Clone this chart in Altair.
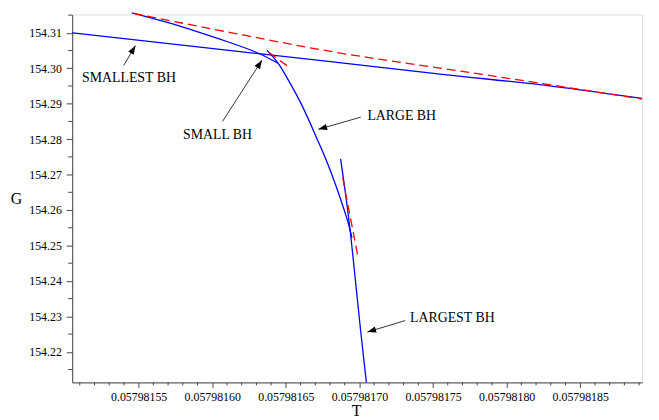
import math
import altair as alt
import pandas as pd

# ---------------- data ----------------
smallest_T = [0.0579815049, 0.0579815902, 0.0579816774, 0.0579817579, 0.0579818317, 0.0579818920]
smallest_G = [154.31000, 154.30604, 154.30200, 154.29824, 154.29490, 154.29150]

small_T = [0.0579815453, 0.0579815701, 0.0579815902, 0.0579816104, 0.0579816325, 0.0579816446]
small_G = [154.31566, 154.31287, 154.31028, 154.30749, 154.30404, 154.30145]

large_T = [0.0579816372, 0.0579816452, 0.0579816520, 0.0579816607, 0.0579816719,
           0.0579816774, 0.0579816828, 0.0579816897, 0.0579816931, 0.0579816949]
large_G = [154.30507, 154.30117, 154.29643, 154.28974, 154.27943,
           154.27414, 154.26829, 154.25993, 154.25528, 154.25213]

largest_T = [0.0579816872, 0.0579816908, 0.0579816942, 0.0579816972, 0.0579817009, 0.0579817047]
largest_G = [154.27442, 154.26383, 154.25241, 154.24043, 154.22566, 154.21136]

red1_T = [0.0579815466, 0.0579816124, 0.0579816774, 0.0579817847, 0.0579818920]
red1_G = [154.31549, 154.31008, 154.30498, 154.29821, 154.29133]
red2_T = [0.0579816383, 0.0579816528]
red2_G = [154.30451, 154.30014]
red3_T = [0.0579816886, 0.0579816987]
red3_G = [154.26912, 154.24748]

label_text = ["SMALLEST BH", "SMALL BH", "LARGE BH", "LARGEST BH"]
label_T = [0.0579815116, 0.0579815802, 0.0579817054, 0.0579817344]
label_G = [154.29615, 154.28008, 154.28548, 154.22836]

arrow_tail_T = [0.0579815399, 0.0579816070, 0.0579817009, 0.0579817311]
arrow_tail_G = [154.30081, 154.28501, 154.28620, 154.22881]
arrow_tip_T = [0.0579815478, 0.0579816338, 0.0579816721, 0.0579817054]
arrow_tip_G = [154.30638, 154.30228, 154.28278, 154.22558]

x_ticks = [0.05798155, 0.05798160, 0.05798165, 0.05798170, 0.05798175, 0.05798180, 0.05798185]
x_minor = [0.05798151, 0.05798152, 0.05798153, 0.05798154,
           0.05798156, 0.05798157, 0.05798158, 0.05798159,
           0.05798161, 0.05798162, 0.05798163, 0.05798164,
           0.05798166, 0.05798167, 0.05798168, 0.05798169,
           0.05798171, 0.05798172, 0.05798173, 0.05798174,
           0.05798176, 0.05798177, 0.05798178, 0.05798179,
           0.05798181, 0.05798182, 0.05798183, 0.05798184,
           0.05798186, 0.05798187, 0.05798188, 0.05798189]
y_ticks = [154.22, 154.23, 154.24, 154.25, 154.26, 154.27, 154.28, 154.29, 154.30, 154.31]
y_minor = [154.215, 154.225, 154.235, 154.245, 154.255, 154.265, 154.275,
           154.285, 154.295, 154.305, 154.315]

x_domain = [0.05798150486, 0.05798189205]
y_domain = [154.21136, 154.31518]

# ---------------- layout ----------------
W, H = 577, 372.5
SERIF = "Liberation Serif, Times New Roman, serif"

def curve_df(name, T, G):
    return pd.DataFrame({"T": T, "G": G, "curve": name, "i": list(range(len(T)))})

blue_df = pd.concat([
    curve_df("smallest", smallest_T, smallest_G),
    curve_df("small", small_T, small_G),
    curve_df("large", large_T, large_G),
    curve_df("largest", largest_T, largest_G),
])
red_df = pd.concat([
    curve_df("r1", red1_T, red1_G),
    curve_df("r2", red2_T, red2_G),
    curve_df("r3", red3_T, red3_G),
])

xs = alt.Scale(domain=x_domain, nice=False, zero=False)
ys = alt.Scale(domain=y_domain, nice=False, zero=False)

x_axis = alt.Axis(values=x_ticks, format=".8f", grid=False, labelFont=SERIF, labelFontSize=12,
                  labelColor="#000", tickSize=5, tickColor="#444", domainColor="#444",
                  labelPadding=4, title="T", titleFont=SERIF, titleFontSize=16,
                  titleFontWeight="normal", titleColor="#000", titleX=W / 2 - 1, titleY=34,
                  titleBaseline="alphabetic", titleAlign="center", labelFlush=False)
y_axis = alt.Axis(values=y_ticks, format=".2f", grid=False, labelFont=SERIF, labelFontSize=12,
                  labelColor="#000", tickSize=6, tickColor="#444", domainColor="#444",
                  labelPadding=5, title="G", titleFont=SERIF, titleFontSize=16,
                  titleFontWeight="normal", titleColor="#000", titleAngle=0, titleX=-57,
                  titleY=H / 2, titleAlign="center", titleBaseline="middle", labelFlush=False)

blue = alt.Chart(blue_df).mark_line(color="#0000ff", strokeWidth=1.3, interpolate="monotone").encode(
    x=alt.X("T:Q", scale=xs, axis=x_axis),
    y=alt.Y("G:Q", scale=ys, axis=y_axis),
    detail="curve:N",
    order="i:Q",
)
red = alt.Chart(red_df).mark_line(color="#ff0000", strokeWidth=1.3, strokeDash=[9, 5],
                                  interpolate="monotone").encode(
    x=alt.X("T:Q", scale=xs), y=alt.Y("G:Q", scale=ys), detail="curve:N", order="i:Q"
)

# minor ticks
xminor = alt.Chart(pd.DataFrame({"T": x_minor})).mark_rule(color="#444", strokeWidth=1).encode(
    x=alt.X("T:Q", scale=xs), y=alt.value(H), y2=alt.value(H + 3)
)
yminor = alt.Chart(pd.DataFrame({"G": y_minor})).mark_rule(color="#444", strokeWidth=1).encode(
    y=alt.Y("G:Q", scale=ys), x=alt.value(-4), x2=alt.value(0)
)

# annotations
labels = alt.Chart(pd.DataFrame({"T": label_T, "G": label_G, "text": label_text})).mark_text(
    align="left", baseline="alphabetic", font=SERIF, fontSize=14, color="#000"
).encode(x=alt.X("T:Q", scale=xs), y=alt.Y("G:Q", scale=ys), text="text:N")

sx = W / (x_domain[1] - x_domain[0])
sy = H / (y_domain[1] - y_domain[0])
angles = []
for t0, g0, t1, g1 in zip(arrow_tail_T, arrow_tail_G, arrow_tip_T, arrow_tip_G):
    dx = (t1 - t0) * sx
    dy = -(g1 - g0) * sy
    angles.append(math.degrees(math.atan2(dx, -dy)) % 360)

arrow_rows = []
for k in range(len(arrow_tail_T)):
    arrow_rows.append({"T": arrow_tail_T[k], "G": arrow_tail_G[k], "a": k, "i": 0})
    arrow_rows.append({"T": arrow_tip_T[k], "G": arrow_tip_G[k], "a": k, "i": 1})
arrow_lines = alt.Chart(pd.DataFrame(arrow_rows)).mark_line(color="#333", strokeWidth=1).encode(
    x=alt.X("T:Q", scale=xs), y=alt.Y("G:Q", scale=ys), detail="a:N", order="i:Q"
)
heads = alt.Chart(pd.DataFrame({"T": arrow_tip_T, "G": arrow_tip_G, "ang": angles})).mark_point(
    shape="M0,0L-0.8,2.2L0.8,2.2Z", filled=True, color="#000", size=64, opacity=1
).encode(x=alt.X("T:Q", scale=xs), y=alt.Y("G:Q", scale=ys), angle=alt.Angle("ang:Q", scale=None))

chart = alt.layer(blue, red, xminor, yminor, arrow_lines, heads, labels).properties(
    width=W, height=H,
    autosize=alt.AutoSizeParams(type="none"),
    padding={"left": 65, "top": 4, "right": 9, "bottom": 36},
).configure_view(stroke=None).configure(background="white")

chart.save("out.html", embed_options={"renderer": "svg", "actions": False})
